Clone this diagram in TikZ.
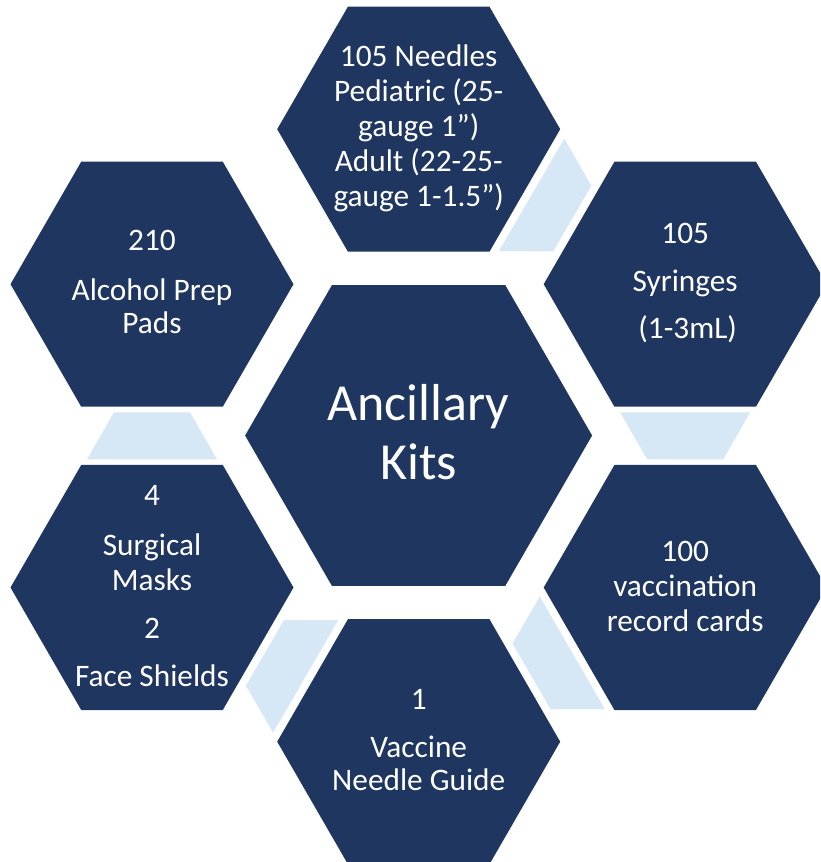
\documentclass[tikz,border=0pt]{standalone}
\usepackage{fontspec}
\setmainfont{Carlito}
\usetikzlibrary{shapes.geometric,calc}
\definecolor{hexnavy}{RGB}{31,54,96}
\definecolor{gapblue}{RGB}{214,232,245}
\tikzset{
  hexbig/.style={regular polygon, regular polygon sides=6, minimum size=347pt, inner sep=0pt, fill=hexnavy},
  hexsmall/.style={regular polygon, regular polygon sides=6, minimum size=283pt, inner sep=0pt, fill=hexnavy},
  smalltxt/.style={anchor=north, inner sep=0pt, align=center, text=white, font=\fontsize{31.3}{34.8}\selectfont},
  bigtxt/.style={anchor=north, inner sep=0pt, align=center, text=white, font=\fontsize{52}{59.3}\selectfont},
  gapfill/.style={fill=gapblue}
}
\newcommand\gapshape[2]{%
  \coordinate (#1-#2-w) at ($(#1)!0.5!(#2)!23.5pt!(#1)$);
  \coordinate (#1-#2-n) at ($(#1)!0.5!(#2)!23.5pt!(#2)$);
  \fill[gapfill] ($(#1-#2-w)!65pt!90:(#1)$) -- ($(#1-#2-n)!38pt!90:(#1)$)
     -- ($(#1-#2-n)!38pt!-90:(#1)$) -- ($(#1-#2-w)!65pt!-90:(#1)$) -- cycle;
}
\newcommand\fs[1]{\rule{0pt}{#1}}
\begin{document}
\begin{tikzpicture}[x=1pt,y=-1pt]
\useasboundingbox (0,0) rectangle (820,862);
\fill[white] (0,0) rectangle (820,862);
\begin{scope}
\clip (0,0) rectangle (820,862);
% hexagons
\node[hexbig]   (c)  at (418.6,435.5) {};
\node[hexsmall] (t)  at (418.7,129.2) {};
\node[hexsmall] (ur) at (685.2,284.2) {};
\node[hexsmall] (lr) at (685.2,587.5) {};
\node[hexsmall] (b)  at (418.7,741.7) {};
\node[hexsmall] (ll) at (152.0,587.5) {};
\node[hexsmall] (ul) at (152.0,284.2) {};
% light blue gap shapes
\gapshape{t}{ur}
\gapshape{ur}{lr}
\gapshape{lr}{b}
\gapshape{b}{ll}
\gapshape{ll}{ul}
\end{scope}
% texts
\node[bigtxt]   (c-txt)  at (418.6,376.0) {\fs{44pt}Ancillary\\Kits};
\node[smalltxt] (t-txt)  at (418.7,40.7)  {\fs{26pt}105 Needles\\Pediatric (25-\\gauge 1”)\\Adult (22-25-\\gauge 1-1.5”)};
\node[smalltxt] (ul-txt) at (152.0,224.7) {\fs{26pt}210\\[14.5pt]Alcohol Prep\\[-1.5pt]Pads};
\node[smalltxt] (ur-txt) at (685.2,217.3) {\fs{26pt}105\\[13.6pt]Syringes\\[12pt]\hspace*{5pt}(1-3mL)};
\node[smalltxt] (lr-txt) at (685.2,535.7) {\fs{26pt}100\\vaccination\\[-0.5pt]record cards};
\node[smalltxt] (b-txt)  at (418.7,683.0) {\fs{26pt}1\\[13.5pt]Vaccine\\[-1.4pt]Needle Guide};
\node[smalltxt] (ll-txt) at (152.0,479.7) {\fs{26pt}4\\[14.5pt]Surgical\\Masks\\[13.5pt]2\\[13.6pt]Face Shields};
\end{tikzpicture}
\end{document}
